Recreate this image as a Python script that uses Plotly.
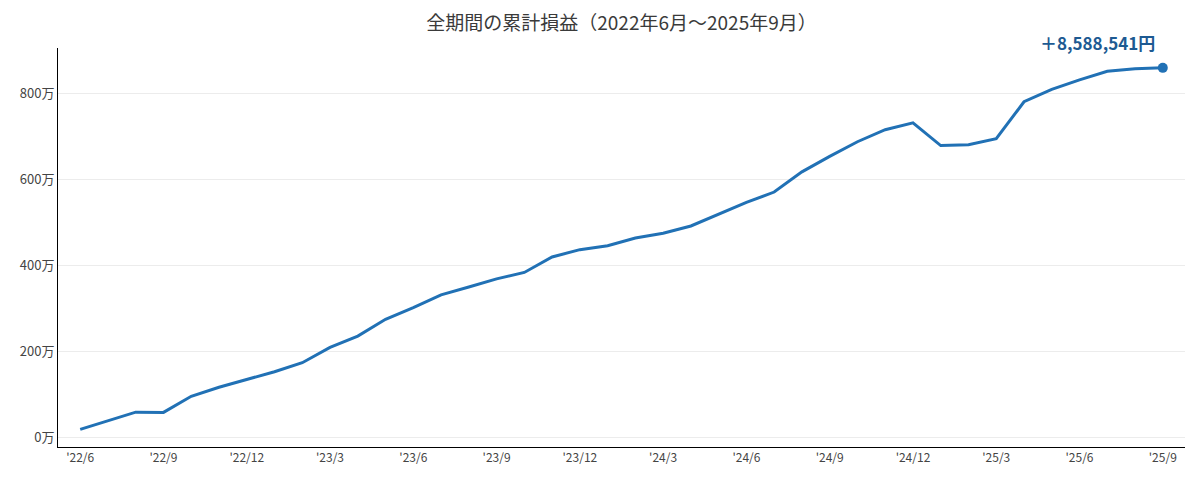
import plotly.graph_objects as go

# 月ラベル（2022/6〜2025/9）
months = [
    '2022-06', '2022-07', '2022-08', '2022-09', '2022-10', '2022-11', '2022-12',
    '2023-01', '2023-02', '2023-03', '2023-04', '2023-05', '2023-06', '2023-07',
    '2023-08', '2023-09', '2023-10', '2023-11', '2023-12', '2024-01', '2024-02',
    '2024-03', '2024-04', '2024-05', '2024-06', '2024-07', '2024-08', '2024-09',
    '2024-10', '2024-11', '2024-12', '2025-01', '2025-02', '2025-03', '2025-04',
    '2025-05', '2025-06', '2025-07', '2025-08', '2025-09',
]

# 累計損益（万円）
cum_pl = [
    18, 38, 58, 57.5, 95, 116, 134, 152, 173, 208.5,
    235, 274, 301, 331, 349, 368, 383, 419, 436, 445,
    463, 474, 491, 519, 546, 570, 617, 653, 687, 715,
    731, 678, 680, 694, 780, 809, 831, 851, 857, 858.8541,
]

final_yen = 8588541

tick_months = months[::3]
tick_text = ["'{}/{}".format(m[2:4], int(m[5:])) for m in tick_months]
y_ticks = [0, 200, 400, 600, 800]
y_text = ['{}万'.format(v) for v in y_ticks]

font = 'Noto Sans CJK JP'
blue = '#2171b5'

fig = go.Figure()
fig.add_trace(go.Scatter(
    x=months, y=cum_pl, mode='lines',
    line={'color': blue, 'width': 3},
    hoverinfo='skip', showlegend=False,
))
# 最終月のマーカー
fig.add_trace(go.Scatter(
    x=[months[-1]], y=[cum_pl[-1]], mode='markers',
    marker={'color': blue, 'size': 10},
    hoverinfo='skip', showlegend=False,
))

fig.add_annotation(
    x=months[-1], y=cum_pl[-1],
    text='<b>＋{:,}円</b>'.format(final_yen),
    showarrow=False, xanchor='right', yanchor='bottom',
    xshift=-6, yshift=11,
    font={'family': font, 'size': 17, 'color': '#1d5a92'},
)

fig.update_layout(
    width=1200, height=480,
    margin={'l': 50, 'r': 23, 't': 40, 'b': 41},
    paper_bgcolor='white', plot_bgcolor='white',
    font={'family': font, 'size': 12, 'color': '#444'},
    title={'text': '全期間の累計損益（2022年6月～2025年9月）',
           'x': 0.5, 'xref': 'paper', 'y': 0.969, 'yanchor': 'middle',
           'font': {'family': font, 'size': 19, 'color': '#3a3a3a'}},
    xaxis={
        'type': 'category',
        'range': [-0.8, len(months) - 0.2],
        'tickvals': tick_months, 'ticktext': tick_text,
        'showgrid': False, 'showline': True, 'linecolor': 'black', 'linewidth': 1,
        'ticks': '', 'tickfont': {'size': 12, 'color': '#444'},
        'automargin': False,
    },
    yaxis={
        'range': [-23, 905],
        'tickvals': y_ticks, 'ticktext': y_text,
        'showgrid': True, 'gridcolor': '#ececec', 'gridwidth': 1,
        'zeroline': False,
        'showline': True, 'linecolor': 'black', 'linewidth': 1,
        'ticks': '', 'tickfont': {'size': 13, 'color': '#444'},
        'automargin': False,
    },
)

fig.write_html('out.html')
